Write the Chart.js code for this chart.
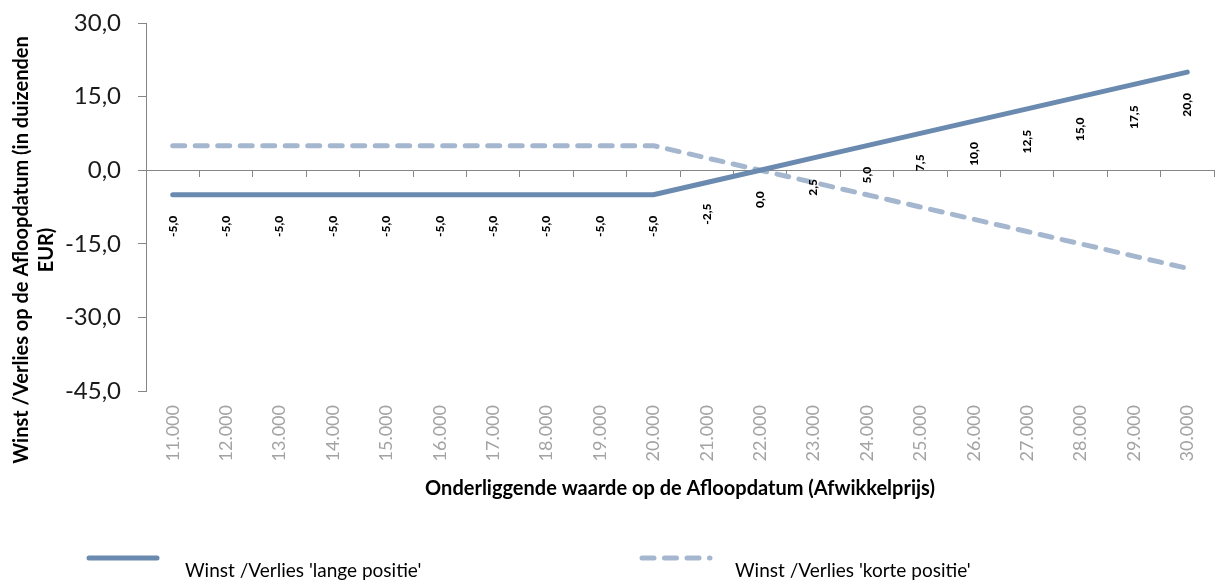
<!DOCTYPE html>
<html lang="nl">
<head>
<meta charset="utf-8">
<title>Winst / Verlies op de Afloopdatum</title>
<script src="https://cdn.jsdelivr.net/npm/chart.js@4.4.1/dist/chart.umd.min.js"></script>
<style>
  html, body { margin: 0; padding: 0; background: #fff; }
  #wrap { width: 1217px; height: 583px; position: relative; }
</style>
</head>
<body>
<div id="wrap"><canvas id="payoff"></canvas></div>
<script>
// afwikkelprijzen op de x-as
const prices = ['11.000', '12.000', '13.000', '14.000', '15.000', '16.000', '17.000',
  '18.000', '19.000', '20.000', '21.000', '22.000', '23.000', '24.000', '25.000',
  '26.000', '27.000', '28.000', '29.000', '30.000'];

// winst/verlies in duizenden EUR
const longPos = [-5, -5, -5, -5, -5, -5, -5, -5, -5, -5,
  -2.5, 0, 2.5, 5, 7.5, 10, 12.5, 15, 17.5, 20];
const shortPos = [5, 5, 5, 5, 5, 5, 5, 5, 5, 5,
  2.5, 0, -2.5, -5, -7.5, -10, -12.5, -15, -17.5, -20];

const yMin = -45, yMax = 30, yStep = 15;

const FONT = "Lato, 'Open Sans', sans-serif";
const AXIS_GREY = '#868686';
const nl = v => v.toFixed(1).replace('.', ',');

// waardes onder de lijn van de lange positie
const valueLabels = {
  id: 'valueLabels',
  afterDatasetsDraw(chart) {
    const ctx = chart.ctx;
    const meta = chart.getDatasetMeta(0);
    ctx.save();
    ctx.font = `900 12px ${FONT}`;
    ctx.fillStyle = '#000';
    ctx.textAlign = 'right';
    ctx.textBaseline = 'middle';
    meta.data.forEach((pt, i) => {
      ctx.save();
      ctx.translate(pt.x, pt.y + 21);
      ctx.rotate(-Math.PI / 2);
      ctx.fillText(nl(longPos[i]), 0, 0);
      ctx.restore();
    });
    ctx.restore();
  }
};

// y-as titel over twee regels
const yTitle = {
  id: 'yTitle',
  afterDraw(chart) {
    const ctx = chart.ctx;
    const lines = ['Winst /Verlies op de Afloopdatum (in duizenden', 'EUR)'];
    ctx.save();
    ctx.font = `bold 20px ${FONT}`;
    ctx.fillStyle = '#000';
    ctx.textAlign = 'center';
    ctx.textBaseline = 'middle';
    lines.forEach((line, i) => {
      ctx.save();
      ctx.translate(22 + i * 25, 250);
      ctx.rotate(-Math.PI / 2);
      ctx.fillText(line, 0, 0);
      ctx.restore();
    });
    ctx.restore();
  }
};

// legenda onderaan: lijnstuk met de tekst eronder rechts
const bottomLegend = {
  id: 'bottomLegend',
  afterDraw(chart) {
    const ctx = chart.ctx;
    const y = chart.height - 25;
    const items = [{ x: 89, textX: 185 }, { x: 642, textX: 735 }];
    chart.data.datasets.forEach((ds, i) => {
      const it = items[i];
      ctx.save();
      ctx.strokeStyle = ds.borderColor;
      ctx.lineWidth = ds.borderWidth;
      ctx.lineCap = 'round';
      ctx.setLineDash(ds.borderDash || []);
      ctx.beginPath();
      ctx.moveTo(it.x, y);
      ctx.lineTo(it.x + 68, y);
      ctx.stroke();
      ctx.setLineDash([]);
      ctx.font = `19px ${FONT}`;
      ctx.fillStyle = '#000';
      ctx.textAlign = 'left';
      ctx.textBaseline = 'middle';
      ctx.fillText(ds.label, it.textX, y + 13);
      ctx.restore();
    });
  }
};

new Chart(document.getElementById('payoff'), {
  type: 'line',
  data: {
    labels: prices,
    datasets: [
      {
        label: "Winst /Verlies 'lange positie'",
        data: longPos,
        borderColor: '#6b8aaf',
        borderWidth: 5,
        borderCapStyle: 'round',
        borderJoinStyle: 'round',
        pointRadius: 0,
        xAxisID: 'x',
        yAxisID: 'y'
      },
      {
        label: "Winst /Verlies 'korte positie'",
        data: shortPos,
        borderColor: '#a5b7cf',
        borderWidth: 5,
        borderDash: [12, 10.5],
        borderCapStyle: 'round',
        borderJoinStyle: 'round',
        pointRadius: 0,
        xAxisID: 'x',
        yAxisID: 'y'
      }
    ]
  },
  options: {
    responsive: true,
    maintainAspectRatio: false,
    animation: false,
    layout: { padding: { top: 23, right: 3, bottom: 82, left: 0 } },
    plugins: {
      legend: { display: false },
      tooltip: { enabled: false }
    },
    scales: {
      // horizontale as door nul met streepjes tussen de categorieën
      x: {
        type: 'category',
        position: { y: 0 },
        offset: true,
        border: { color: AXIS_GREY, width: 1 },
        grid: {
          offset: true,
          drawOnChartArea: false,
          drawTicks: true,
          tickLength: 6,
          color: AXIS_GREY
        },
        ticks: { display: false }
      },
      // labels en titel onder het grafiekgebied
      xb: {
        type: 'category',
        position: 'bottom',
        offset: true,
        border: { display: false },
        grid: { display: false, drawTicks: false },
        ticks: {
          autoSkip: false,
          minRotation: 90,
          maxRotation: 90,
          padding: 14,
          color: '#a3a3a3',
          font: { family: FONT, size: 18 }
        },
        title: {
          display: true,
          text: 'Onderliggende waarde op de Afloopdatum (Afwikkelprijs)',
          color: '#000',
          padding: { top: 0, bottom: 0 },
          font: { family: FONT, size: 20, weight: 'bold' }
        },
        afterFit: s => {
          s.height = 110;
          s.paddingLeft = 0;
          s.paddingRight = 0;
        }
      },
      y: {
        min: yMin,
        max: yMax,
        border: { color: AXIS_GREY, width: 1 },
        grid: {
          drawOnChartArea: false,
          tickLength: 8,
          color: AXIS_GREY
        },
        ticks: {
          stepSize: yStep,
          padding: 17,
          color: '#1a1a1a',
          font: { family: FONT, size: 24 },
          callback: v => nl(v)
        },
        afterFit: s => {
          s.width = 146;
          s.paddingTop = 0;
          s.paddingBottom = 0;
        }
      }
    }
  },
  plugins: [valueLabels, yTitle, bottomLegend]
});
</script>
</body>
</html>
